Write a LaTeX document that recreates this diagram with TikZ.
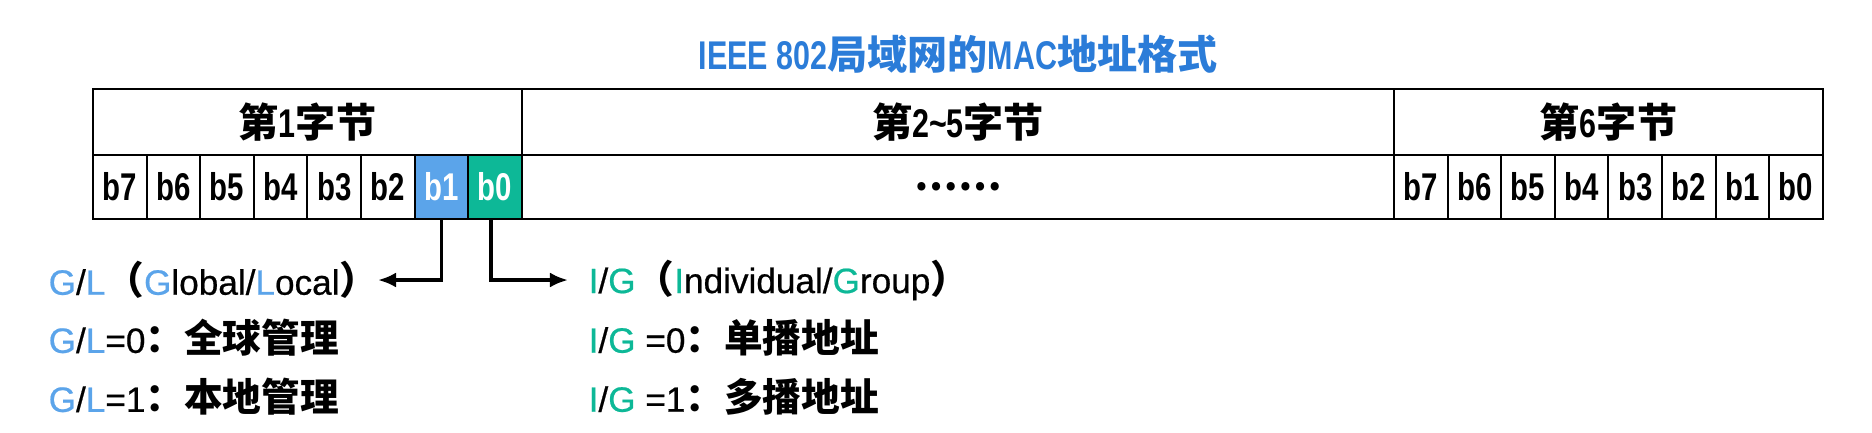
\documentclass[tikz,border=0pt]{standalone}
\usepackage{fontspec}
\usetikzlibrary{arrows.meta}
\setmainfont{Liberation Sans}[FakeStretch=0.76]
\newfontfamily\plain{Liberation Sans}[FakeBold=0.6]
\newfontfamily\cjk{Noto Sans CJK SC}
\definecolor{titleblue}{HTML}{2B7CD8}
\definecolor{glblue}{HTML}{5BA4EA}
\definecolor{iggreen}{HTML}{0DB897}
\newcommand{\zh}[1]{{\cjk\bfseries #1}}
\newcommand{\zhbig}[1]{{\fontsize{11}{12}\selectfont\cjk\bfseries #1}}
\newcommand{\gl}[1]{\textcolor{glblue}{#1}}
\newcommand{\ig}[1]{\textcolor{iggreen}{#1}}

\begin{document}
\begin{tikzpicture}[x=0.01cm,y=-0.01cm,
    bytebox/.style={draw, line width=0.6pt, minimum height=0.66cm, inner sep=0pt,
      font=\fontsize{11.4}{12}\selectfont\bfseries},
    bitbox/.style={draw, line width=0.6pt, minimum width=0.536cm, minimum height=0.64cm,
      inner sep=0pt, font=\fontsize{11}{12}\selectfont\bfseries},
    pointer/.style={line width=1pt, -{Latex[length=1.8mm,width=1.5mm]}},
    desc/.style={anchor=west, inner sep=0pt, font=\fontsize{10}{12}\selectfont\plain}]
  \useasboundingbox (0,0) rectangle (1872,432);

  \node[font=\fontsize{11.4}{12}\selectfont\bfseries, text=titleblue] (title) at (958,54)
    {IEEE 802\zh{局域网的}MAC\zh{地址格式}};

  % three bytes
  \node[bytebox, minimum width=4.29cm] (byte1) at (307.5,122) {\zh{第}1\zh{字节}};
  \node[bytebox, minimum width=8.72cm] (byte25) at (958,122) {\zh{第}2\textasciitilde5\zh{字节}};
  \node[bytebox, minimum width=4.29cm] (byte6) at (1608.5,122) {\zh{第}6\zh{字节}};

  % bits of the first byte
  \foreach \i in {2,...,7}
    \node[bitbox] (p\i) at ({93+53.6*(7-\i)+26.8},187) {b\i};
  \node[bitbox, fill=glblue, text=white] (p1) at ({93+53.6*6+26.8},187) {b1};
  \node[bitbox, fill=iggreen, text=white] (p0) at ({93+53.6*7+26.8},187) {b0};

  \node[bitbox, minimum width=8.72cm] (dots) at (958,187) {\zh{……}};

  % bits of the sixth byte
  \foreach \i in {0,...,7}
    \node[bitbox] (q\i) at ({1394+53.6*(7-\i)+26.8},187) {b\i};

  % G/L side
  \node[desc] (glhead) at (48,280)
    {\gl{G}/\gl{L}\zhbig{（}\gl{G}lobal/\gl{L}ocal\zhbig{）}};
  \node[desc] (gl0) at (48,338) {\gl{G}/\gl{L}=0\zhbig{：全球管理}};
  \node[desc] (gl1) at (48,397) {\gl{G}/\gl{L}=1\zhbig{：本地管理}};
  \coordinate (gltip) at (378,280);
  \draw[pointer] (p1.south) |- (gltip);

  % I/G side
  \node[desc] (ighead) at (588,280)
    {\ig{I}/\ig{G}\zhbig{（}\ig{I}ndividual/\ig{G}roup\zhbig{）}};
  \node[desc] (ig0) at (588,338) {\ig{I}/\ig{G} =0\zhbig{：单播地址}};
  \node[desc] (ig1) at (588,397) {\ig{I}/\ig{G} =1\zhbig{：多播地址}};
  \draw[pointer] ([xshift=-0.04cm]p0.south) |- ([xshift=-0.2cm]ighead.west);
\end{tikzpicture}
\end{document}
